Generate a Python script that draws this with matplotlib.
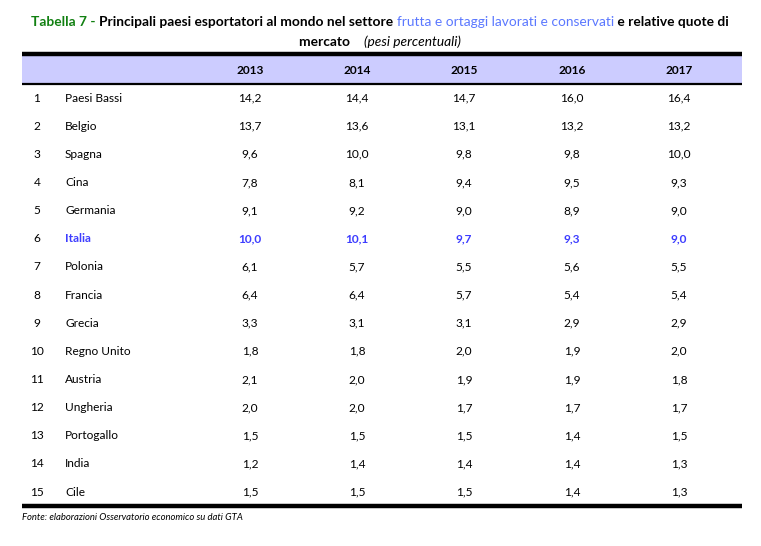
import matplotlib
matplotlib.use("Agg")
import matplotlib.pyplot as plt

plt.rcParams['font.family'] = ['Lato', 'DejaVu Sans']

# data
years = ["2013", "2014", "2015", "2016", "2017"]
countries = ["Paesi Bassi", "Belgio", "Spagna", "Cina", "Germania", "Italia",
             "Polonia", "Francia", "Grecia", "Regno Unito", "Austria",
             "Ungheria", "Portogallo", "India", "Cile"]
v2013 = [14.2, 13.7, 9.6, 7.8, 9.1, 10.0, 6.1, 6.4, 3.3, 1.8, 2.1, 2.0, 1.5, 1.2, 1.5]
v2014 = [14.4, 13.6, 10.0, 8.1, 9.2, 10.1, 5.7, 6.4, 3.1, 1.8, 2.0, 2.0, 1.5, 1.4, 1.5]
v2015 = [14.7, 13.1, 9.8, 9.4, 9.0, 9.7, 5.5, 5.7, 3.1, 2.0, 1.9, 1.7, 1.5, 1.4, 1.5]
v2016 = [16.0, 13.2, 9.8, 9.5, 8.9, 9.3, 5.6, 5.4, 2.9, 1.9, 1.9, 1.7, 1.4, 1.4, 1.4]
v2017 = [16.4, 13.2, 10.0, 9.3, 9.0, 9.0, 5.5, 5.4, 2.9, 2.0, 1.8, 1.7, 1.5, 1.3, 1.3]
columns = [v2013, v2014, v2015, v2016, v2017]
highlight = "Italia"

W, H = 761, 546
fig = plt.figure(figsize=(W / 100, H / 100), dpi=100)
ax = fig.add_axes([0, 0, 1, 1])
ax.set_xlim(0, W)
ax.set_ylim(H, 0)
ax.axis("off")

blue = "#3d3dff"
light_blue = "#5b78ff"
green = "#118011"
fs = 8.6

# title, built from pieces so the colours can change mid-line
renderer = fig.canvas.get_renderer()


def text_row(pieces, y, xc):
    objs = []
    for s, kw in pieces:
        objs.append(ax.text(0, y, s, va="center", ha="left", fontsize=9.9, **kw))
    widths = []
    inv = ax.transData.inverted()
    for t in objs:
        bb = t.get_window_extent(renderer=renderer)
        x0 = inv.transform((bb.x0, bb.y0))[0]
        x1 = inv.transform((bb.x1, bb.y0))[0]
        widths.append(x1 - x0)
    x = xc - sum(widths) / 2
    for t, w in zip(objs, widths):
        t.set_x(x)
        x += w


text_row([("Tabella 7 - ", dict(color=green, fontweight="bold")),
          ("Principali paesi esportatori al mondo nel settore ", dict(color="black", fontweight="bold")),
          ("frutta e ortaggi lavorati e conservati", dict(color=light_blue)),
          (" e relative quote di", dict(color="black", fontweight="bold"))], 22, 380)
text_row([("mercato    ", dict(color="black", fontweight="bold")),
          ("(pesi percentuali)", dict(color="black", style="italic"))], 42, 380)

x_left, x_right = 22, 742
ax.plot([x_left, x_right], [53.5, 53.5], color="black", lw=3.2, solid_capstyle="butt")
ax.fill_between([x_left, x_right], 55.5, 83, color="#ccccff", lw=0)
ax.plot([x_left, x_right], [84, 84], color="black", lw=1.6, solid_capstyle="butt")

col_x = [250, 357, 464, 572, 679]
for x, yr in zip(col_x, years):
    ax.text(x, 70, yr, ha="center", va="center", fontsize=fs, fontweight="bold")

row_y0, row_dy = 98, 28.15
for i, name in enumerate(countries):
    y = row_y0 + i * row_dy
    hl = name == highlight
    c = blue if hl else "black"
    w = "bold" if hl else "normal"
    ax.text(37, y, str(i + 1), ha="center", va="center", fontsize=fs)
    ax.text(65, y, name, ha="left", va="center", fontsize=fs, color=c, fontweight=w)
    for x, vals in zip(col_x, columns):
        ax.text(x, y, f"{vals[i]:.1f}".replace(".", ","), ha="center", va="center",
                fontsize=fs, color=c, fontweight=w)

ax.plot([x_left, x_right], [505.5, 505.5], color="black", lw=3.2, solid_capstyle="butt")
ax.text(x_left, 518, "Fonte: elaborazioni Osservatorio economico su dati GTA",
        ha="left", va="center", fontsize=6.8, style="italic")

fig.savefig("out.png", dpi=100)
